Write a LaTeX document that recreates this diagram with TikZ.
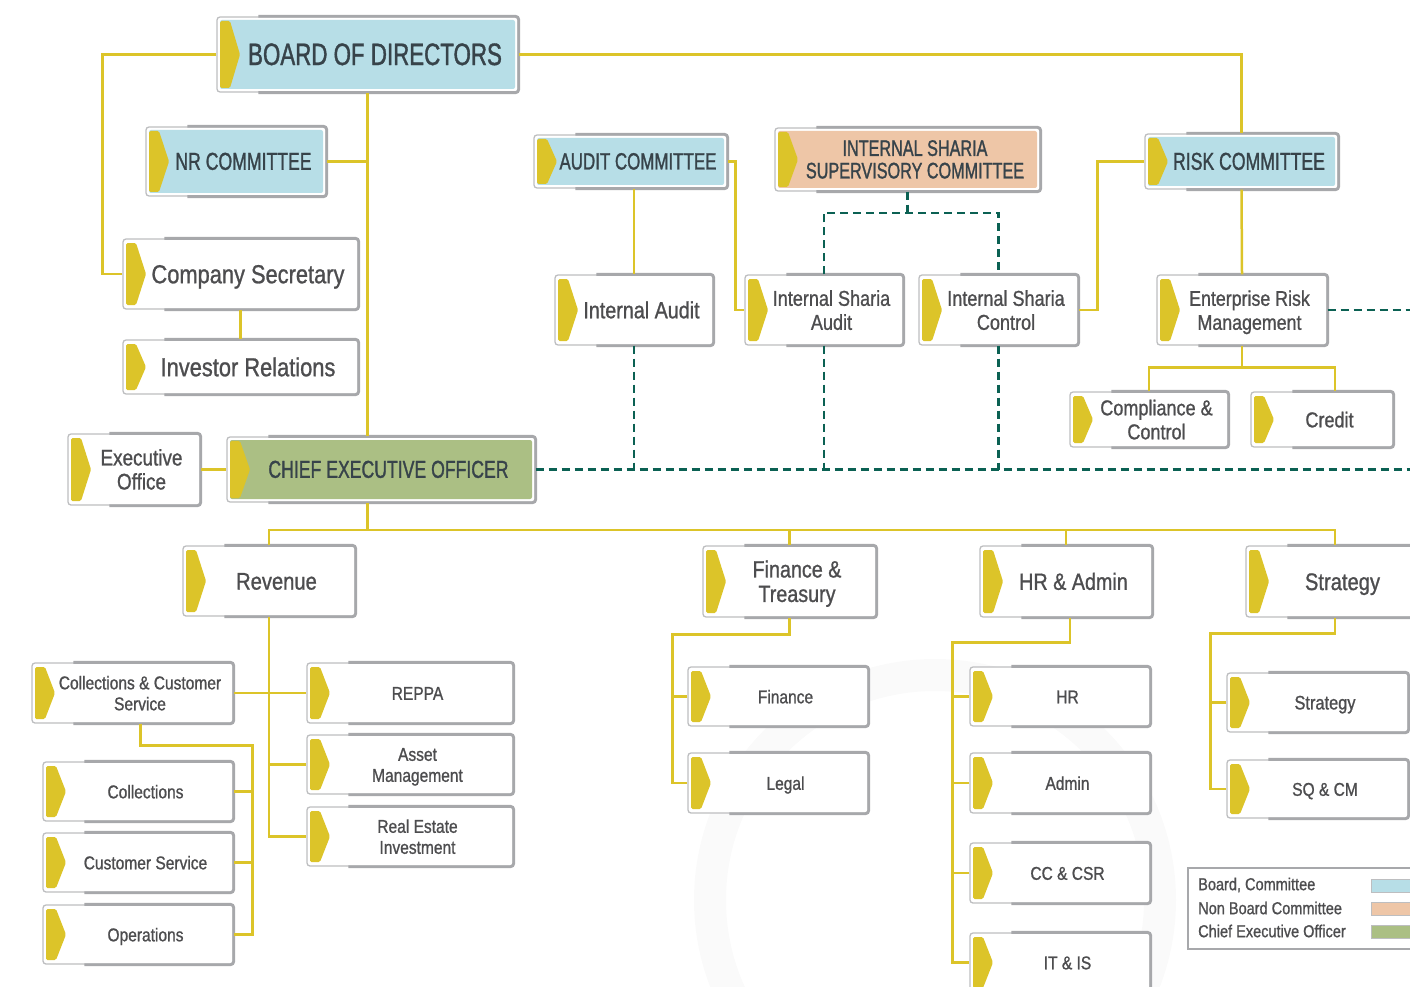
\documentclass[tikz,border=0pt]{standalone}
\usepackage{fontspec}
\setmainfont[FakeStretch=0.84, FakeBold=1.0]{Liberation Sans}
\newfontfamily\capsfont[FakeStretch=0.72, FakeBold=1.2]{Liberation Sans}
\definecolor{chevyellow}{RGB}{220,196,41}
\definecolor{thingray}{RGB}{189,190,192}
\definecolor{thickgray}{RGB}{167,168,171}
\definecolor{bdblue}{RGB}{183,222,231}
\definecolor{shpeach}{RGB}{238,198,167}
\definecolor{ceogreen}{RGB}{171,191,132}
\definecolor{tealline}{RGB}{11,97,83}
\definecolor{txtgray}{RGB}{77,77,79}
\definecolor{darktxt}{RGB}{55,67,74}
% text block nudged right of the chevron, centred on its capitals
\newcommand{\lbl}[1]{\kern15pt\raisebox{-0.14em}[\height][\depth]{\begin{tabular}{@{}c@{}}#1\end{tabular}}}
\tikzset{
  link/.style={draw=chevyellow, line width=2.5pt},
  dashln/.style={draw=tealline, line width=2.3pt, dash pattern=on 8pt off 5pt},
  unit/.style={draw=thingray, line width=1.3pt, fill=white, rounded corners=3pt,
    inner sep=0pt, text=txtgray,
    path picture={
      \fill[#1, rounded corners=2pt] ([shift={(3pt,-3pt)}]path picture bounding box.north west)
        rectangle ([shift={(-3pt,3pt)}]path picture bounding box.south east);
      \fill[chevyellow, rounded corners=1.5pt] ([shift={(3pt,-4pt)}]path picture bounding box.north west)
        -- ([shift={(13pt,-4pt)}]path picture bounding box.north west)
        -- ([xshift=23pt]path picture bounding box.west)
        -- ([shift={(13pt,4pt)}]path picture bounding box.south west)
        -- ([shift={(3pt,4pt)}]path picture bounding box.south west) -- cycle;
    }},
  unit/.default=white,
  edgebar/.style={draw=thickgray, line width=2.8pt, rounded corners=3pt},
  caps/.style={font=\capsfont\fontsize{#1}{#1}\selectfont, text=darktxt},
  txt/.style 2 args={font=\fontsize{#1}{#2}\selectfont},
  legtxt/.style={font=\fontsize{17.3}{19}\selectfont, text=txtgray, inner sep=0pt, anchor=west},
}
\begin{document}
\begin{tikzpicture}[x=1pt,y=-1pt]
\useasboundingbox (0,0) rectangle (1410,987);
\clip (0,0) rectangle (1410,987);
% faint watermark ring
\draw[black!2, line width=32pt] (935,900) circle (225);

% board level
\node[unit=bdblue, caps=31, minimum width=301pt, minimum height=75pt] (bod) at (367.5,54.5) {\lbl{BOARD OF DIRECTORS}};
\node[unit=bdblue, caps=24.5, minimum width=180pt, minimum height=69pt] (nr) at (236,161.5) {\lbl{NR COMMITTEE}};
\node[unit, txt={26}{28}, minimum width=235pt, minimum height=70pt] (cosec) at (240.5,274) {\lbl{Company Secretary}};
\node[unit, txt={26}{28}, minimum width=235pt, minimum height=54pt] (invrel) at (240.5,367) {\lbl{Investor Relations}};
\node[unit, txt={22.5}{24}, minimum width=132pt, minimum height=71pt] (exec) at (134,469.5) {\lbl{Executive\\Office}};
\node[unit=ceogreen, caps=24.5, minimum width=308pt, minimum height=65pt] (ceo) at (381,469.5) {\lbl{CHIEF EXECUTIVE OFFICER}};

% committees
\node[unit=bdblue, caps=23.5, minimum width=193pt, minimum height=53pt] (audit) at (630.5,161.5) {\lbl{AUDIT COMMITTEE}};
\node[unit=shpeach, caps=22.5, minimum width=265pt, minimum height=63pt] (issc) at (907.5,159.5) {\lbl{INTERNAL SHARIA\\SUPERVISORY COMMITTEE}};
\node[unit=bdblue, caps=24.5, minimum width=193pt, minimum height=55pt] (risk) at (1241.5,161.5) {\lbl{RISK COMMITTEE}};
\node[unit, txt={23.5}{25}, minimum width=158pt, minimum height=70pt] (iaudit) at (634,310) {\lbl{Internal Audit}};
\node[unit, txt={21.5}{24}, minimum width=158pt, minimum height=70pt] (isaudit) at (824,310) {\lbl{Internal Sharia\\Audit}};
\node[unit, txt={21.5}{24}, minimum width=159pt, minimum height=70pt] (iscontrol) at (998.5,310) {\lbl{Internal Sharia\\Control}};
\node[unit, txt={21.2}{24}, minimum width=170pt, minimum height=70pt] (erm) at (1242,310) {\lbl{Enterprise Risk\\Management}};
\node[unit, txt={21.5}{24}, minimum width=158pt, minimum height=55pt] (comp) at (1149,419.5) {\lbl{Compliance \&\\Control}};
\node[unit, txt={21.5}{24}, minimum width=142pt, minimum height=55pt] (credit) at (1322,419.5) {\lbl{Credit}};

% divisions
\node[unit, txt={24}{26}, minimum width=172pt, minimum height=70pt] (revenue) at (269,581) {\lbl{Revenue}};
\node[unit, txt={23.5}{24.5}, minimum width=173pt, minimum height=71pt] (fintr) at (789.5,581.5) {\lbl{Finance \&\\Treasury}};
\node[unit, txt={23.5}{25}, minimum width=172pt, minimum height=71pt] (hradm) at (1066,581.5) {\lbl{HR \& Admin}};
\node[unit, txt={24}{26}, minimum width=178pt, minimum height=71pt] (strat) at (1335,581.5) {\lbl{Strategy}};

% departments
\node[unit, txt={18.5}{21}, minimum width=201pt, minimum height=60pt] (cc) at (132.5,693) {\lbl{Collections \& Customer\\Service}};
\node[unit, txt={18.5}{21}, minimum width=190pt, minimum height=59pt] (coll) at (138,791.5) {\lbl{Collections}};
\node[unit, txt={18.5}{21}, minimum width=190pt, minimum height=59pt] (custsrv) at (138,862.5) {\lbl{Customer Service}};
\node[unit, txt={18.5}{21}, minimum width=190pt, minimum height=59pt] (ops) at (138,934.5) {\lbl{Operations}};
\node[unit, txt={18.5}{21}, minimum width=206pt, minimum height=60pt] (reppa) at (410,693) {\lbl{REPPA}};
\node[unit, txt={18.5}{21}, minimum width=206pt, minimum height=59pt] (assetm) at (410,764.5) {\lbl{Asset\\Management}};
\node[unit, txt={18.5}{21}, minimum width=206pt, minimum height=59pt] (realest) at (410,836.5) {\lbl{Real Estate\\Investment}};
\node[unit, txt={18.5}{21}, minimum width=180pt, minimum height=59pt] (finance) at (778,696.5) {\lbl{Finance}};
\node[unit, txt={18.5}{21}, minimum width=180pt, minimum height=60pt] (legal) at (778,783) {\lbl{Legal}};
\node[unit, txt={18.5}{21}, minimum width=180pt, minimum height=59pt] (hr) at (1060,696.5) {\lbl{HR}};
\node[unit, txt={18.5}{21}, minimum width=180pt, minimum height=60pt] (admin) at (1060,783) {\lbl{Admin}};
\node[unit, txt={18.5}{21}, minimum width=180pt, minimum height=60pt] (cccsr) at (1060,873) {\lbl{CC \& CSR}};
\node[unit, txt={18.5}{21}, minimum width=180pt, minimum height=59pt] (itis) at (1060,962.5) {\lbl{IT \& IS}};
\node[unit, txt={19.5}{21}, minimum width=181pt, minimum height=59pt] (stratsub) at (1317.5,702.5) {\lbl{Strategy}};
\node[unit, txt={18.5}{21}, minimum width=181pt, minimum height=58pt] (sqcm) at (1317.5,789) {\lbl{SQ \& CM}};

% heavy right/bottom edge of every box
\foreach \n in {bod,nr,cosec,invrel,exec,ceo,audit,issc,risk,iaudit,isaudit,iscontrol,erm,comp,credit,
  revenue,fintr,hradm,strat,cc,coll,custsrv,ops,reppa,assetm,realest,finance,legal,hr,admin,cccsr,itis,stratsub,sqcm}
  \draw[edgebar] ([xshift=42pt]\n.north west) -- (\n.north east) -- (\n.south east) -- ([xshift=42pt]\n.south west);

% solid reporting lines
\draw[link] (bod.west) -| ([xshift=-20pt]cosec.west) -- (cosec.west);
\draw[link] (bod.south) -- (bod.south |- ceo.north);
\draw[link] (nr.east) -- (nr.east -| bod.south);
\draw[link] (bod.east) -| (risk.north);
\draw[link] (audit.north -| iaudit.north) -- (audit.north -| iaudit.north |- bod.east);
\draw[link] (audit.south -| iaudit.north) -- (iaudit.north);
\draw[link] (audit.east) -- ++(8,0) |- (isaudit.west);
\draw[link] (risk.west) -- ++(-47,0) |- (iscontrol.east);
\draw[link] (risk.south) -- (erm.north);
\draw[link] (comp.north) |- ([yshift=-22pt]erm.south) -| ([xshift=13pt]credit.north);
\draw[link] (erm.south) -- ++(0,22);
\draw[link] (cosec.south) -- (invrel.north);
\draw[link] (exec.east) -- (ceo.west);

\coordinate (spine) at (bod.south |- 0,530);
\draw[link] (ceo.south -| bod.south) -- (spine);
\draw[link] (revenue.north) |- (spine) -| (strat.north);
\draw[link] (fintr.north) -- (fintr.north |- spine);
\draw[link] (hradm.north) -- (hradm.north |- spine);

\draw[link] (revenue.south) -- (revenue.south |- realest.west) -- (realest.west);
\draw[link] (cc.east) -- (reppa.west);
\draw[link] (revenue.south |- assetm.west) -- (assetm.west);
\draw[link] ([xshift=8pt]cc.south) -- ++(0,22) -| ([xshift=19pt]ops.east) -- (ops.east);
\foreach \n in {coll,custsrv} \draw[link] (\n.east) -- ++(19,0);

\draw[link] (fintr.south) -- ++(0,17) -| ([xshift=-15pt]legal.west) -- (legal.west);
\draw[link] (finance.west) -- ++(-15,0);
\draw[link] ([xshift=4pt]hradm.south) -- ++(0,25) -| ([xshift=-17pt]itis.west) -- (itis.west);
\foreach \n in {hr,admin,cccsr} \draw[link] (\n.west) -- ++(-17,0);
\draw[link] (strat.south) -- ++(0,16) -| ([xshift=-16pt]sqcm.west) -- (sqcm.west);
\draw[link] (stratsub.west) -- ++(-16,0);

% dotted (functional) lines
\coordinate (dashend) at (1420,469.5);
\draw[dashln] (issc.south) -- ++(0,21);
\draw[dashln] (isaudit.north) |- ([yshift=-21pt]issc.south) -| (iscontrol.north);
\draw[dashln] (ceo.east) -- (dashend);
\foreach \n in {iaudit,isaudit,iscontrol} \draw[dashln] (\n.south) -- (\n.south |- dashend);
\draw[dashln] (erm.east) -- (erm.east -| dashend);

% legend
\node[draw=thickgray, line width=2.5pt, fill=white, minimum width=236pt, minimum height=81pt, inner sep=0pt] (legend) at (1306,908.5) {};
\node[legtxt] (lgboard) at (1198,885) {Board, Committee};
\node[legtxt] (lgnonboard) at (1198,908) {Non Board Committee};
\node[legtxt] (lgceo) at (1198,931) {Chief Executive Officer};
\filldraw[fill=bdblue, draw=thingray, line width=1pt] (1371,879) rectangle (1425,892);
\filldraw[fill=shpeach, draw=thingray, line width=1pt] (1371,902) rectangle (1425,915);
\filldraw[fill=ceogreen, draw=thingray, line width=1pt] (1371,925) rectangle (1425,938);
\end{tikzpicture}
\end{document}
